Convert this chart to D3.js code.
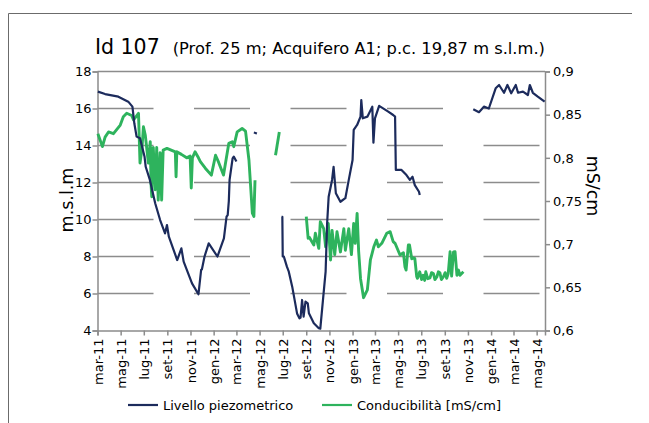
<!DOCTYPE html>
<html lang="it">
<head>
<meta charset="UTF-8">
<title>Id 107</title>
<script src="https://cdn.jsdelivr.net/npm/d3@7"></script>
<style>
  body { margin: 0; background: #fff; }
  text { font-family: "DejaVu Sans", Verdana, sans-serif; fill: #000; }
</style>
</head>
<body>
<script>
// livello piezometrico (m s.l.m.), tratti separati
var livello1 = [
  ["2011-03-02",16.91],["2011-03-21",16.78],["2011-04-25",16.64],["2011-05-21",16.37],
  ["2011-06-01",16.1],["2011-06-06",15.2],["2011-06-12",14.48],["2011-06-21",14.39],
  ["2011-07-03",13.39],["2011-07-06",12.85],["2011-07-17",12.14],["2011-07-31",10.88],
  ["2011-08-13",9.97],["2011-08-26",9.25],["2011-08-31",9.7],["2011-09-05",9.07],
  ["2011-09-27",7.81],["2011-10-08",8.44],["2011-10-14",7.72],["2011-11-05",6.55],
  ["2011-11-22",5.96],["2011-11-29",7.27],["2011-12-01",7.3],["2011-12-08",8.0],
  ["2011-12-19",8.71],["2012-01-11",8.0],["2012-01-28",8.98],["2012-02-04",10.15],
  ["2012-02-07",10.24],["2012-02-10",11.0],["2012-02-12",12.14],["2012-02-20",13.31],
  ["2012-02-23",13.4],["2012-03-01",13.13]
];
var livello2 = [["2012-04-16",14.7],["2012-04-24",14.65]];
var livello3 = [
  ["2012-06-28",10.15],["2012-06-30",10.15],["2012-07-01",8.0],["2012-07-04",7.99],
  ["2012-07-12",7.45],["2012-07-17",7.18],["2012-07-26",6.37],["2012-08-08",4.9],
  ["2012-08-14",4.66],["2012-08-17",4.7],["2012-08-21",5.65],["2012-08-25",4.75],
  ["2012-08-30",5.56],["2012-09-05",5.47],["2012-09-08",4.93],["2012-09-21",4.39],
  ["2012-10-04",4.12],["2012-10-08",4.1],["2012-10-22",7.18],["2012-10-26",9.8],
  ["2012-10-30",11.23],["2012-11-08",12.14],["2012-11-12",12.85],["2012-11-18",11.42],
  ["2012-11-30",10.96],["2012-12-13",11.15],["2012-12-22",12.14],["2013-01-01",13.22],
  ["2013-01-04",14.84],["2013-01-13",15.11],["2013-01-22",15.56],["2013-01-24",16.46],
  ["2013-01-28",15.47],["2013-02-09",15.56],["2013-02-22",16.1],["2013-02-25",14.15],
  ["2013-03-01",15.47],["2013-03-12",16.14],["2013-04-05",15.83],["2013-04-18",15.65],
  ["2013-04-23",15.56],["2013-04-25",12.68],["2013-05-10",12.68],["2013-05-23",12.4],
  ["2013-06-01",12.14],["2013-06-08",12.31],["2013-06-14",11.86],["2013-06-25",11.5],
  ["2013-06-27",11.32]
];
var livello4 = [
  ["2013-11-15",15.96],["2013-11-30",15.8],["2013-12-13",16.1],["2013-12-26",16.0],
  ["2014-01-13",17.09],["2014-01-22",17.27],["2014-02-04",16.85],["2014-02-13",17.27],
  ["2014-02-23",16.82],["2014-03-07",17.27],["2014-03-13",16.85],["2014-03-26",16.91],
  ["2014-04-08",16.73],["2014-04-13",17.27],["2014-04-21",16.85],["2014-05-04",16.64],
  ["2014-05-22",16.37]
];

// conducibilità (mS/cm)
var cond1 = [
  ["2011-03-02",0.828],["2011-03-14",0.813],["2011-03-21",0.824],["2011-03-30",0.830],
  ["2011-04-12",0.828],["2011-04-30",0.838],["2011-05-08",0.8476],["2011-05-17",0.8516],
  ["2011-05-30",0.849],["2011-06-04",0.844],["2011-06-17",0.8516],["2011-06-21",0.794],
  ["2011-06-26",0.81],["2011-06-30",0.836],["2011-07-05",0.826],["2011-07-13",0.794],
  ["2011-07-18",0.8187],["2011-07-20",0.77],["2011-07-22",0.755],["2011-07-24",0.81],
  ["2011-07-26",0.812],["2011-07-31",0.763],["2011-08-04",0.812],["2011-08-08",0.751],
  ["2011-08-13",0.806],["2011-08-17",0.751],["2011-08-21",0.809],["2011-08-31",0.811],
  ["2011-09-22",0.807],["2011-09-24",0.778],["2011-09-26",0.807],["2011-10-08",0.804],
  ["2011-10-22",0.800],["2011-10-31",0.802],["2011-11-03",0.765],["2011-11-06",0.800],
  ["2011-11-13",0.807],["2011-11-22",0.800],["2011-11-27",0.7955],["2011-12-10",0.788],
  ["2011-12-26",0.780],["2012-01-06",0.803],["2012-01-14",0.795],["2012-01-27",0.78],
  ["2012-02-10",0.8168],["2012-02-19",0.8187],["2012-02-23",0.8129],["2012-03-03",0.830],
  ["2012-03-16",0.834],["2012-03-25",0.831],["2012-04-03",0.7975],["2012-04-12",0.736],
  ["2012-04-16",0.732],["2012-04-19",0.774]
];
var cond2 = [["2012-06-12",0.803],["2012-06-22",0.830]];
var cond3 = [
  ["2012-09-01",0.7318],["2012-09-06",0.7068],["2012-09-09",0.708],["2012-09-21",0.699],
  ["2012-09-25",0.7126],["2012-10-04",0.6952],["2012-10-08",0.726],["2012-10-17",0.718],
  ["2012-10-22",0.697],["2012-10-29",0.724],["2012-11-04",0.6817],["2012-11-08",0.716],
  ["2012-11-15",0.688],["2012-11-21",0.7145],["2012-11-30",0.691],["2012-12-09",0.718],
  ["2012-12-13",0.693],["2012-12-22",0.718],["2012-12-29",0.688],["2013-01-04",0.724],
  ["2013-01-08",0.701],["2013-01-13",0.7357],["2013-01-17",0.692],["2013-01-22",0.660],
  ["2013-01-30",0.638],["2013-02-09",0.647],["2013-02-17",0.6817],["2013-02-26",0.697],
  ["2013-03-05",0.7048],["2013-03-10",0.697],["2013-03-19",0.701],["2013-04-01",0.7126],
  ["2013-04-10",0.7145],["2013-04-18",0.703],["2013-04-23",0.701],["2013-05-06",0.6875],
  ["2013-05-15",0.690],["2013-05-19",0.6739],["2013-05-22",0.670],["2013-05-28",0.699],
  ["2013-05-31",0.699],["2013-06-06",0.683],["2013-06-10",0.684],["2013-06-14",0.6836],
  ["2013-06-19",0.6623],["2013-06-21",0.6605],["2013-06-27",0.668],["2013-07-02",0.659],
  ["2013-07-06",0.664],["2013-07-10",0.658],["2013-07-13",0.668],["2013-07-18",0.660],
  ["2013-07-24",0.661],["2013-07-28",0.667],["2013-08-02",0.666],["2013-08-06",0.659],
  ["2013-08-11",0.662],["2013-08-15",0.668],["2013-08-19",0.667],["2013-08-23",0.659],
  ["2013-08-28",0.662],["2013-09-02",0.667],["2013-09-06",0.6605],["2013-09-10",0.666],
  ["2013-09-15",0.6913],["2013-09-19",0.663],["2013-09-24",0.691],["2013-09-28",0.6913],
  ["2013-10-03",0.664],["2013-10-07",0.670],["2013-10-11",0.664],["2013-10-20",0.668]
];

var leftTicks = [4, 6, 8, 10, 12, 14, 16, 18];
var rightTicks = [0.6, 0.65, 0.7, 0.75, 0.8, 0.85, 0.9];
var mesi = ["gen","feb","mar","apr","mag","giu","lug","ago","set","ott","nov","dic"];

var width = 649, height = 423;
var mLeft = 97.5, mRight = 545, mTop = 71.5, mBottom = 330.5;
var blu = "#1c2b5c", verde = "#2eb35d", grigio = "#8c8c8c";

var svg = d3.select("body").append("svg")
    .attr("width", width)
    .attr("height", height);

// cornice (solo sopra e a sinistra)
svg.append("path")
    .attr("d", "M8.5,423V13.5H632")
    .attr("fill", "none").attr("stroke", "#6b6b6b").attr("stroke-width", 1);

var parse = d3.utcParse("%Y-%m-%d");
var x = d3.scaleUtc()
    .domain([parse("2011-03-01"), parse("2014-05-23")])
    .range([mLeft, mRight]);
var y = d3.scaleLinear().domain([4, 18]).range([mBottom, mTop]);
var y2 = d3.scaleLinear().domain([0.6, 0.9]).range([mBottom, mTop]);

// griglia
svg.selectAll("line.grid")
    .data(leftTicks.filter(function (d) { return d > 4 && d < 18; }))
    .enter().append("line")
    .attr("class", "grid")
    .attr("x1", mLeft).attr("x2", mRight)
    .attr("y1", function (d) { return y(d); })
    .attr("y2", function (d) { return y(d); })
    .attr("stroke", grigio).attr("stroke-width", 1.6)
    .attr("stroke-dasharray", "56,40.5");
svg.append("line")
    .attr("x1", mLeft).attr("x2", mRight)
    .attr("y1", y(18)).attr("y2", y(18))
    .attr("stroke", grigio).attr("stroke-width", 1.5);

// assi
var axL = svg.append("g").attr("transform", "translate(" + mLeft + ",0)")
    .call(d3.axisLeft(y).tickValues(leftTicks).tickSize(5).tickPadding(1));
var axR = svg.append("g").attr("transform", "translate(" + mRight + ",0)")
    .call(d3.axisRight(y2).tickValues(rightTicks).tickSize(5).tickPadding(3)
        .tickFormat(function (d) { return String(+d.toFixed(2)).replace(".", ","); }));
var axB = svg.append("g").attr("transform", "translate(0," + mBottom + ")")
    .call(d3.axisBottom(x).ticks(d3.utcMonth.every(2)).tickSize(5)
        .tickFormat(function (d) {
            return mesi[d.getUTCMonth()] + "-" + String(d.getUTCFullYear()).slice(2);
        }));
[axL, axR, axB].forEach(function (g) {
    g.selectAll("path, line").attr("stroke", grigio).attr("stroke-width", 1.5);
    g.selectAll("text").style("font-size", "13px").attr("fill", "#000")
        .style("font-family", "DejaVu Sans, sans-serif");
});
axB.selectAll("text")
    .attr("transform", "rotate(-90)")
    .attr("text-anchor", "end")
    .attr("x", -8).attr("y", 0).attr("dy", "0.35em");

// linee
var line = d3.line()
    .x(function (d) { return x(parse(d[0])); })
    .y(function (d) { return y(d[1]); });
var line2 = d3.line()
    .x(function (d) { return x(parse(d[0])); })
    .y(function (d) { return y2(d[1]); });

[cond1, cond2, cond3].forEach(function (s) {
    svg.append("path").datum(s).attr("d", line2)
        .attr("fill", "none").attr("stroke", verde)
        .attr("stroke-width", 2.9).attr("stroke-linejoin", "round");
});
[livello1, livello2, livello3, livello4].forEach(function (s) {
    svg.append("path").datum(s).attr("d", line)
        .attr("fill", "none").attr("stroke", blu)
        .attr("stroke-width", 2.2).attr("stroke-linejoin", "round");
});

// titolo
var t = svg.append("text").attr("x", 95).attr("y", 54);
t.append("tspan").text("Id 107").style("font-size", "20.5px");
t.append("tspan").attr("dx", 13)
    .text("(Prof. 25 m; Acquifero A1; p.c. 19,87 m s.l.m.)").style("font-size", "16.3px");

// titoli assi
svg.append("text")
    .attr("transform", "translate(73,200) rotate(-90)")
    .attr("text-anchor", "middle")
    .style("font-size", "17.5px")
    .text("m.s.l.m");
svg.append("text")
    .attr("transform", "translate(587,186) rotate(90)")
    .attr("text-anchor", "middle")
    .style("font-size", "17.5px")
    .text("mS/cm");

// legenda
var legenda = [
    {nome: "Livello piezometrico", colore: blu, x: 128},
    {nome: "Conducibilità [mS/cm]", colore: verde, x: 322}
];
var lg = svg.selectAll("g.leg").data(legenda).enter().append("g")
    .attr("transform", function (d) { return "translate(" + d.x + ",405)"; });
lg.append("line").attr("x1", 0).attr("x2", 30)
    .attr("stroke", function (d) { return d.colore; }).attr("stroke-width", 2.2);
lg.append("text").attr("x", 35).attr("dy", "0.35em")
    .style("font-size", "13px")
    .text(function (d) { return d.nome; });
</script>
</body>
</html>
